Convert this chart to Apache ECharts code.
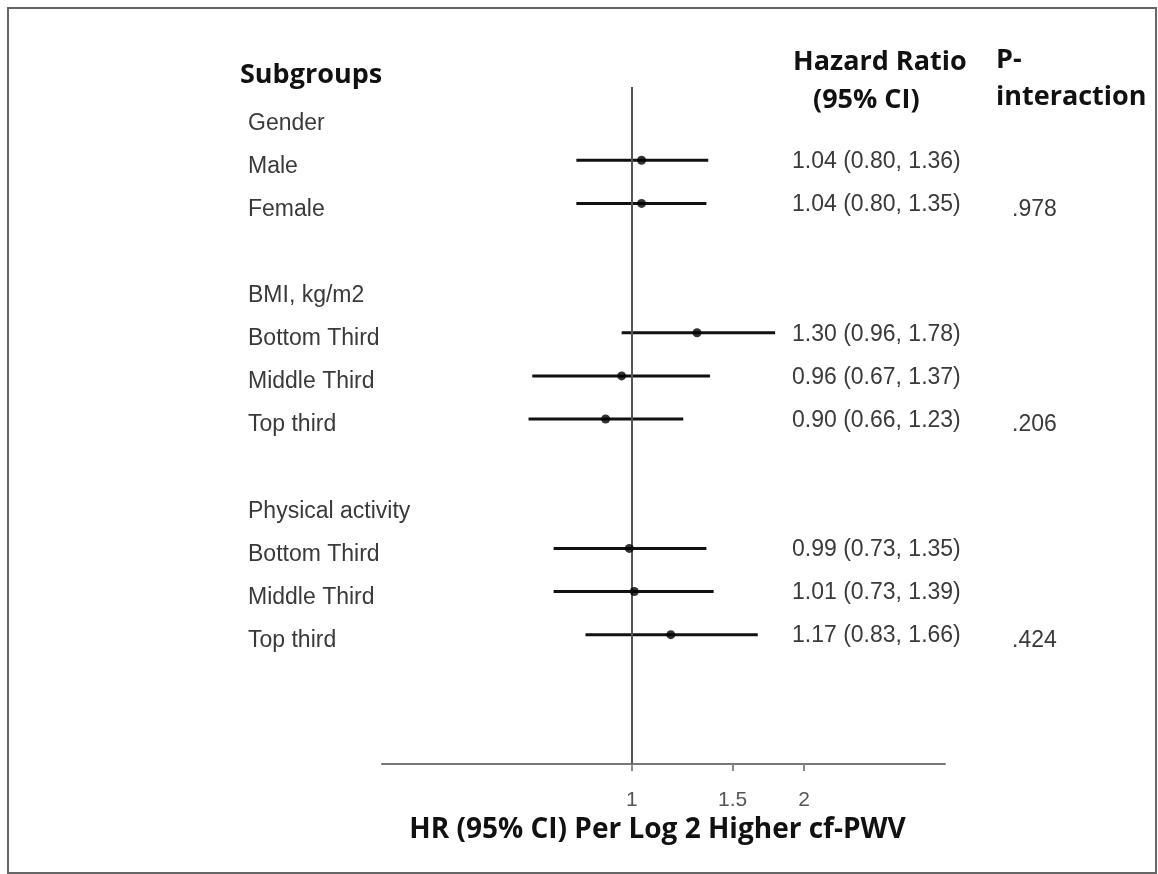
<!DOCTYPE html>
<html>
<head>
<meta charset="utf-8">
<script src="https://cdn.jsdelivr.net/npm/echarts@6/dist/echarts.min.js"></script>
<style>html,body{margin:0;padding:0;background:#fff;}#main{width:1158px;height:874px;}</style>
</head>
<body>
<div id="main"></div>
<script>
// ---- data ----
const subgroups = ['Gender', 'Male', 'Female', '', 'BMI, kg/m2', 'Bottom Third', 'Middle Third', 'Top third', '', 'Physical activity', 'Bottom Third', 'Middle Third', 'Top third'];
const hr = [null, 1.04, 1.04, null, null, 1.30, 0.96, 0.90, null, null, 0.99, 1.01, 1.17];
const lo = [null, 0.80, 0.80, null, null, 0.96, 0.67, 0.66, null, null, 0.73, 0.73, 0.83];
const hi = [null, 1.36, 1.35, null, null, 1.78, 1.37, 1.23, null, null, 1.35, 1.39, 1.66];
const pInteraction = ['', '', '.978', '', '', '', '', '.206', '', '', '', '', '.424'];
const xTicks = [1, 1.5, 2];
const xName = 'HR (95% CI) Per Log 2 Higher cf-PWV';

const rows = subgroups.map((_, i) => i);
const hrText = hr.map((v, i) => v == null ? '' : v.toFixed(2) + ' (' + lo[i].toFixed(2) + ', ' + hi[i].toFixed(2) + ')');
const ciData = [];
const ptData = [];
hr.forEach((v, i) => { if (v != null) { ciData.push([lo[i], hi[i], i]); ptData.push([v, i]); } });

const chart = echarts.init(document.getElementById('main'), null, { renderer: 'canvas' });
const Y_MIN = -0.7, Y_MAX = 15;
function yAxisDef(shift, extra) {
  return Object.assign({ type: 'value', inverse: true, min: Y_MIN - shift, max: Y_MAX - shift,
    splitLine: { show: false }, axisLine: { show: false }, axisTick: { show: false } }, extra);
}
const labelFont = { fontFamily: 'Liberation Sans, Arial, sans-serif', fontSize: 23, color: '#3a3a3a' };
const headFont = 'bold 27px "Open Sans", sans-serif';
chart.setOption({
  animation: false,
  backgroundColor: '#fff',
  grid: { left: 382, right: 213, top: 87, bottom: 110 },
  xAxis: {
    type: 'log', logBase: 2, min: 0.366, max: 3.526,
    axisLine: { show: true, onZero: false, lineStyle: { color: '#777', width: 2 } },
    axisTick: { show: true, customValues: xTicks, length: 7, lineStyle: { color: '#888', width: 2 } },
    axisLabel: { customValues: xTicks, margin: 26, fontFamily: 'Liberation Sans, Arial, sans-serif', fontSize: 21, color: '#555',
      formatter: v => String(Math.round(v * 100) / 100) },
    splitLine: { show: false },
    name: xName, nameLocation: 'middle', nameGap: 52,
    nameTextStyle: { fontFamily: 'Open Sans, sans-serif', fontWeight: 'bold', fontSize: 28, color: '#111', padding: [0, 12, 0, 0] }
  },
  yAxis: [
    yAxisDef(0, { position: 'left', axisLabel: { show: false } }),
    yAxisDef(0.139, { position: 'left',
      axisLabel: Object.assign({ customValues: rows, align: 'left', margin: 134, formatter: v => subgroups[v] || '' }, labelFont) }),
    yAxisDef(0.035, { position: 'right', offset: -153,
      axisLabel: Object.assign({ customValues: rows, align: 'left', margin: 0, formatter: v => hrText[v] || '' }, labelFont) }),
    yAxisDef(0.139, { position: 'right', offset: 67,
      axisLabel: Object.assign({ customValues: rows, align: 'left', margin: 0, formatter: v => pInteraction[v] || '' }, labelFont) })
  ],
  series: [
    {
      type: 'custom', yAxisIndex: 0, data: ciData,
      renderItem: (params, api) => {
        const a = api.coord([api.value(0), api.value(2)]);
        const b = api.coord([api.value(1), api.value(2)]);
        return { type: 'line', shape: { x1: a[0], y1: a[1], x2: b[0], y2: b[1] }, style: { stroke: '#111', lineWidth: 3 } };
      },
      encode: { x: [0, 1], y: 2 },
      markLine: {
        silent: true, symbol: 'none', label: { show: false },
        lineStyle: { color: '#555', width: 2, type: 'solid' },
        data: [{ xAxis: 1 }]
      }
    },
    {
      type: 'scatter', yAxisIndex: 0, data: ptData, symbol: 'circle', symbolSize: 9,
      itemStyle: { color: '#000' }, z: 5
    }
  ],
  graphic: [
    { type: 'rect', shape: { x: 8, y: 8, width: 1148, height: 865 }, style: { fill: 'none', stroke: '#666', lineWidth: 2 }, silent: true },
    { type: 'text', x: 240, y: 75, style: { text: 'Subgroups', font: headFont, fill: '#111', verticalAlign: 'middle' } },
    { type: 'text', x: 793, y: 62, style: { text: 'Hazard Ratio', font: headFont, fill: '#111', verticalAlign: 'middle' } },
    { type: 'text', x: 813, y: 100, style: { text: '(95% CI)', font: headFont, fill: '#111', verticalAlign: 'middle' } },
    { type: 'text', x: 996, y: 60, style: { text: 'P-', font: headFont, fill: '#111', verticalAlign: 'middle' } },
    { type: 'text', x: 996, y: 97, style: { text: 'interaction', font: headFont, fill: '#111', verticalAlign: 'middle' } }
  ]
});
</script>
</body>
</html>
